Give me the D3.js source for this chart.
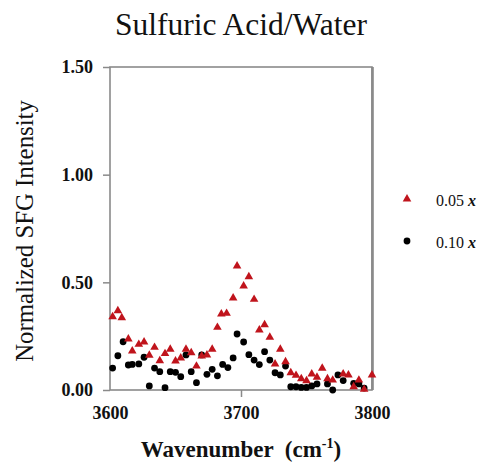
<!DOCTYPE html>
<html>
<head>
<meta charset="utf-8">
<script src="https://cdn.jsdelivr.net/npm/d3@7"></script>
<style>
  body { margin: 0; background: #fff; }
  svg text { font-family: "Liberation Serif", "Times New Roman", serif; fill: #111; }
</style>
</head>
<body>
<div id="chart"></div>
<script>
// 0.05 x series (red triangles)
var wave05 = [3602, 3606, 3609, 3614, 3617, 3622, 3626, 3630, 3634, 3638, 3642, 3646, 3650, 3654, 3658, 3662, 3666, 3670, 3674, 3678, 3682, 3685, 3689, 3694, 3697, 3702, 3706, 3710, 3714, 3718, 3722, 3726, 3730, 3734, 3738, 3742, 3746, 3750, 3754, 3758, 3762, 3766, 3770, 3778, 3782, 3786, 3790, 3794, 3800];
var int05 = [0.340, 0.368, 0.336, 0.237, 0.181, 0.212, 0.223, 0.161, 0.198, 0.136, 0.169, 0.189, 0.135, 0.149, 0.189, 0.173, 0.111, 0.158, 0.163, 0.189, 0.291, 0.353, 0.356, 0.427, 0.576, 0.483, 0.526, 0.421, 0.279, 0.303, 0.245, 0.121, 0.189, 0.131, 0.080, 0.068, 0.052, 0.043, 0.074, 0.059, 0.101, 0.052, 0.046, 0.074, 0.070, 0.015, 0.046, 0.003, 0.070];
// 0.10 x series (black circles)
var wave10 = [3602, 3606, 3610, 3614, 3617, 3622, 3626, 3630, 3634, 3638, 3642, 3646, 3650, 3654, 3658, 3662, 3666, 3670, 3674, 3678, 3682, 3686, 3690, 3694, 3697, 3702, 3706, 3710, 3714, 3718, 3722, 3726, 3730, 3734, 3738, 3742, 3746, 3750, 3754, 3758, 3766, 3770, 3774, 3778, 3786, 3790, 3794];
var int10 = [0.102, 0.159, 0.224, 0.116, 0.119, 0.121, 0.152, 0.019, 0.102, 0.085, 0.011, 0.085, 0.082, 0.062, 0.163, 0.085, 0.034, 0.163, 0.073, 0.096, 0.066, 0.119, 0.104, 0.149, 0.260, 0.223, 0.164, 0.139, 0.118, 0.178, 0.139, 0.080, 0.070, 0.111, 0.015, 0.015, 0.012, 0.012, 0.019, 0.028, 0.028, 0.000, 0.070, 0.044, 0.031, 0.028, 0.009];

var xTicks = [3600, 3700, 3800];
var yTicks = [0, 0.5, 1.0, 1.5];
var seriesNames = ["0.05", "0.10"];

var width = 482, height = 464;
var margin = {left: 110, top: 67, right: 110, bottom: 74};

var svg = d3.select("#chart").append("svg")
    .attr("width", width)
    .attr("height", height);

var x = d3.scaleLinear().domain([3600, 3800]).range([margin.left, width - margin.right]);
var y = d3.scaleLinear().domain([0, 1.5]).range([height - margin.bottom, margin.top]);

// title
svg.append("text")
    .attr("x", 241).attr("y", 35)
    .attr("text-anchor", "middle")
    .style("font-size", "31.5px")
    .text("Sulfuric Acid/Water");

// frame
svg.append("rect")
    .attr("x", x(3600)).attr("y", y(1.5))
    .attr("width", x(3800) - x(3600))
    .attr("height", y(0) - y(1.5))
    .attr("fill", "none")
    .attr("stroke", "#8a8a8a")
    .attr("stroke-width", 1.6);
svg.append("line")
    .attr("x1", x(3800) + 0.5).attr("x2", x(3800) + 0.5)
    .attr("y1", y(1.5)).attr("y2", y(0))
    .attr("stroke", "#8a8a8a").attr("stroke-width", 2.6);

// axes
var xAxis = svg.append("g")
    .attr("transform", "translate(0," + y(0) + ")")
    .call(d3.axisBottom(x).tickValues(xTicks).tickSize(7).tickPadding(9).tickFormat(d3.format("d")));
var yAxis = svg.append("g")
    .attr("transform", "translate(" + x(3600) + ",0)")
    .call(d3.axisLeft(y).tickValues(yTicks).tickSize(7).tickPadding(10).tickFormat(d3.format(".2f")));
[xAxis, yAxis].forEach(function(g){
    g.select(".domain").remove();
    g.selectAll(".tick line").attr("stroke", "#8a8a8a").attr("stroke-width", 1.5);
    g.selectAll(".tick text")
        .style("font-family", "'Liberation Serif', serif")
        .style("font-size", "18px")
        .style("font-weight", "bold")
        .attr("fill", "#111");
});
// end ticks sit on the frame, hide the 3600/3800 stubs like the original
xAxis.selectAll(".tick line").filter(function(d){ return d !== 3700; }).remove();

// axis titles
var xt = svg.append("text")
    .attr("x", 241).attr("y", 457)
    .attr("text-anchor", "middle")
    .style("font-size", "23px")
    .style("font-weight", "bold")
    .style("white-space", "pre");
xt.append("tspan").text("Wavenumber  (cm");
xt.append("tspan").attr("dy", -9).style("font-size", "14px").text("-1");
xt.append("tspan").attr("dy", 9).text(")");

svg.append("text")
    .attr("transform", "translate(33,231) rotate(-90)")
    .attr("text-anchor", "middle")
    .style("font-size", "24.8px")
    .text("Normalized SFG Intensity");

var red = "#c0141c";
var tri = d3.symbol().type(d3.symbolTriangle).size(32);

// black circles
svg.append("g").selectAll("circle")
    .data(wave10.map(function(w, i){ return [w, int10[i]]; }))
    .enter().append("circle")
    .attr("cx", function(d){ return x(d[0]); })
    .attr("cy", function(d){ return y(d[1]); })
    .attr("r", 3.4)
    .attr("fill", "#000");

// red triangles
svg.append("g").selectAll("path")
    .data(wave05.map(function(w, i){ return [w, int05[i]]; }))
    .enter().append("path")
    .attr("d", tri)
    .attr("transform", function(d){ return "translate(" + x(d[0]) + "," + y(d[1]) + ")"; })
    .attr("fill", red);

// legend
var legend = svg.append("g");
legend.append("path").attr("d", tri).attr("transform", "translate(407,199)").attr("fill", red);
legend.append("circle").attr("cx", 407).attr("cy", 241).attr("r", 3.4).attr("fill", "#000");
seriesNames.forEach(function(name, i){
    var t = legend.append("text")
        .attr("x", 436).attr("y", 206 + i * 42)
        .style("font-size", "16px")
        .text(name + " ");
    t.append("tspan").style("font-style", "italic").style("font-weight", "bold").text("x");
});
</script>
</body>
</html>
